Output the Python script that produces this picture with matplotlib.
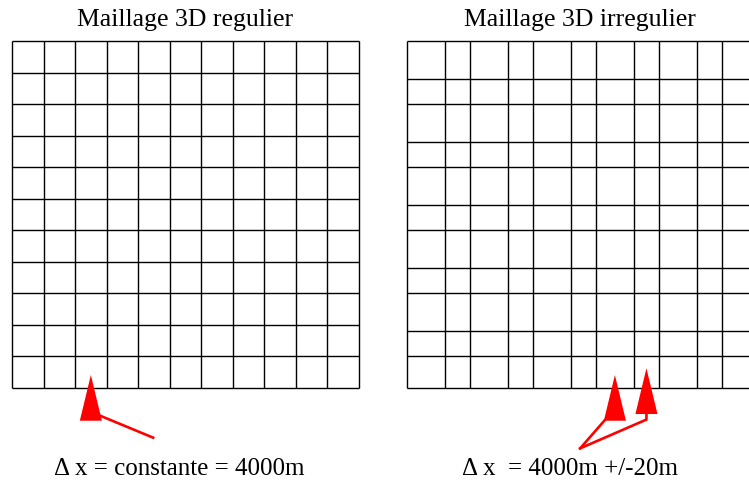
import numpy as np
import matplotlib
matplotlib.use("Agg")
import matplotlib.pyplot as plt

# ---------------- DATA (cell sizes in km) ---------------- #
regular_dx = [4.0, 4.0, 4.0, 4.0, 4.0, 4.0, 4.0, 4.0, 4.0, 4.0, 4.0]
regular_dy = [4.0, 4.0, 4.0, 4.0, 4.0, 4.0, 4.0, 4.0, 4.0, 4.0, 4.0]

irregular_dx = [4.8, 3.2, 4.8, 3.2, 4.8, 3.2, 4.8, 3.2, 4.8, 3.2, 4.8]
irregular_dy = [4.0, 3.2, 4.8, 3.2, 4.8, 3.2, 4.8, 3.2, 4.8, 3.2, 4.8]  # bottom -> top

titles = ["Maillage 3D regulier", "Maillage 3D irregulier"]
labels = ["\u0394 x = constante = 4000m", "\u0394 x  = 4000m +/-20m"]

# cells pointed at by the red arrows
regular_targets = [2]
irregular_targets = [6, 7]

RED = "#ff0000"
FONT = "Liberation Serif"


def edges(sizes):
    return np.concatenate([[0.0], np.cumsum(sizes)])


def draw_grid(ax, dx, dy):
    xe = edges(dx)
    ye = edges(dy)
    ax.vlines(xe, ye[0], ye[-1], color="black", lw=1.0, clip_on=False)
    ax.hlines(ye, xe[0], xe[-1], color="black", lw=1.0, clip_on=False)
    ax.set_xlim(0, 44)
    ax.set_ylim(0, 44)
    ax.axis("off")
    return xe


def draw_arrow(ax, xc, lift, tail, join):
    # tall vertical arrowhead below the grid, pointing up into the cell
    tip, base, half = 1.65 + lift, -4.15 + lift, 1.4
    ax.fill([xc - half, xc + half, xc], [base, base, tip], color=RED,
            lw=0, clip_on=False, zorder=5)
    ax.plot([tail[0]] + [p[0] for p in join], [tail[1]] + [p[1] for p in join],
            color=RED, lw=1.9, clip_on=False, zorder=5)


fig = plt.figure(figsize=(7.49, 4.8), dpi=100)
ax1 = fig.add_axes([12 / 749, 92 / 480, 347 / 749, 347 / 480])
ax2 = fig.add_axes([406.7 / 749, 92 / 480, 347 / 749, 347 / 480])

# ---- regular mesh ----
xe1 = draw_grid(ax1, regular_dx, regular_dy)
for i in regular_targets:
    xc = (xe1[i] + xe1[i + 1]) / 2
    draw_arrow(ax1, xc, 0.0, (17.9, -6.3), [(xc + 0.9, -3.4)])

# ---- irregular mesh ----
xe2 = draw_grid(ax2, irregular_dx, irregular_dy)
tail = (22.0, -7.65)
lifts = [0.0, 0.85]
for k, i in enumerate(irregular_targets):
    xc = (xe2[i] + xe2[i + 1]) / 2
    if k == 0:
        join = [(xc - 1.3, -4.1)]
    else:
        join = [(xc, -4.0), (xc, -3.3)]
    draw_arrow(ax2, xc, lifts[k], tail, join)

label_x = [21.2, 20.7]
for ax, title, label, lx in zip([ax1, ax2], titles, labels, label_x):
    ax.text(22, 45.9, title, ha="center", va="baseline", fontsize=18.5,
            family=FONT, clip_on=False)
    ax.text(lx, -11.0, label, ha="center", va="baseline", fontsize=18,
            family=FONT, clip_on=False)

fig.savefig("out.png", dpi=100, facecolor="white")
